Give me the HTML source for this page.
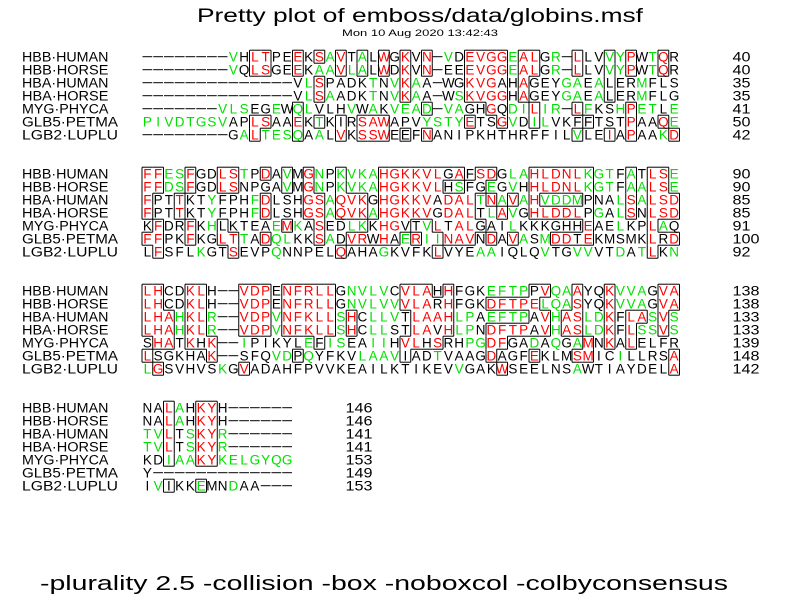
<!DOCTYPE html>
<html><head><meta charset="utf-8"><style>
html,body{margin:0;padding:0;background:#fff;}
svg{display:block;font-family:"Liberation Sans",sans-serif;}
</style></head><body>
<svg id="plot" width="800" height="600" viewBox="0 0 800 600" xmlns="http://www.w3.org/2000/svg">
<rect width="800" height="600" fill="#fff"/>
<text x="420" y="22" text-anchor="middle" font-size="19" textLength="446" lengthAdjust="spacingAndGlyphs">Pretty plot of emboss/data/globins.msf</text>
<text x="420" y="36" text-anchor="middle" font-size="9" textLength="156" lengthAdjust="spacingAndGlyphs">Mon 10 Aug 2020 13:42:43</text>
<text x="40" y="590" font-size="20" textLength="688" lengthAdjust="spacingAndGlyphs">-plurality 2.5 -collision -box -noboxcol -colbyconsensus</text>
<g id="aln"></g>
</svg>
<script>
const names = ["HBB·HUMAN","HBB·HORSE","HBA·HUMAN","HBA·HORSE","MYG·PHYCA","GLB5·PETMA","LGB2·LUPLU"];
const block1 = [
"--------VHLTPEEKSAVTALWGKVN-VDEVGGEALGR-LLVVYPWTQR",
"--------VQLSGEEKAAVLALWDKVN-EEEVGGEALGR-LLVVYPWTQR",
"--------------VLSPADKTNVKAA-WGKVGAHAGEYGAEALERMFLS",
"--------------VLSAADKTNVKAA-WSKVGGHAGEYGAEALERMFLG",
"-------VLSEGEWQLVLHVWAKVEAD-VAGHGQDILIR-LFKSHPETLE",
"PIVDTGSVAPLSAAEKTKIRSAWAPVYSTYETSGVDILVKFFTSTPAAQE",
"--------GALTESQAALVKSSWEEFNANIPKHTHRFFILVLEIAPAAKD"];
const block2 = [
"FFESFGDLSTPDAVMGNPKVKAHGKKVLGAFSDGLAHLDNLKGTFATLSE",
"FFDSFGDLSNPGAVMGNPKVKAHGKKVLHSFGEGVHHLDNLKGTFAALSE",
"FPTTKTYFPHFDLSHGSAQVKGHGKKVADALTNAVAHVDDMPNALSALSD",
"FPTTKTYFPHFDLSHGSAQVKAHGKKVGDALTLAVGHLDDLPGALSNLSD",
"KFDRFKHLKTEAEMKASEDLKKHGVTVLTALGAILKKKGHHEAELKPLAQ",
"FFPKFKGLTTADQLKKSADVRWHAERIINAVNDAVASMDDTEKMSMKLRD",
"LFSFLKGTSEVPQNNPELQAHAGKVFKLVYEAAIQLQVTGVVVTDATLKN"];
const block3 = [
"LHCDKLH--VDPENFRLLGNVLVCVLAHHFGKEFTPPVQAAYQKVVAGVA",
"LHCDKLH--VDPENFRLLGNVLVVVLARHFGKDFTPELQASYQKVVAGVA",
"LHAHKLR--VDPVNFKLLSHCLLVTLAAHLPAEFTPAVHASLDKFLASVS",
"LHAHKLR--VDPVNFKLLSHCLLSTLAVHLPNDFTPAVHASLDKFLSSVS",
"SHATKHK--IPIKYLEFISEAIIHVLHSRHPGDFGADAQGAMNKALELFR",
"LSGKHAK--SFQVDPQYFKVLAAVIADTVAAGDAGFEKLMSMICILLRSA",
"LGSVHVSKGVADAHFPVVKEAILKTIKEVVGAKWSEELNSAWTIAYDELA"];
const block4 = [
"NALAHKYH------","NALAHKYH------","TVLTSKYR------","TVLTSKYR------",
"KDIAAKYKELGYQG","Y-------------","IVIKKEMNDAA---"];
const colors1 = [
"kkkkkkkkgkrrkkrkrgrkGkrkrkrkgkrrrrgrrkgkrkkGgrkgrk",
"kkkkkkkkgkrrkkrkggrgGkrkrkrkkkrrrrgrrkgkrkkGgrkgrk",
"kkkkkkkkkkkkkkkgrkkkkgkgrgkkkkrrrKkrkkkggkgKkkgkkk",
"kkkkkkkkkkkkkkkgrgkkkgkgrgkkkgrrrrkrkkkggkgKkkgkkk",
"kkkkkkkgggkkgkGgkkkgkgkgggGkggkkrKggrggkrgkkgrggkg",
"ggggggggkkrrkkrkGkKkrrrkkkggggrkkrgkGgkkkKkkkrkkrg",
"kkkkkkkkkgrgggGkgkrkrrrkKkrkkkkkkkkkkkkkGkkrkrkkgr"];
const colors2 = [
"rrggrkkrrgkrkGkrgkGgggrrrrrrKrkrrkggrrrrrGggkGkrrg",
"rrggrkkrrkkkkGkrgkGgggrrrrrrkgKKgkgkrrrrrGggkGgrrg",
"rkkrkkgkkkgrkkkrrgrrrkrrrrrKrrrgrgrgrggggKkkgrgrrr",
"rkkrkkgkkkgrkkkrrgrrrgrrrrrKrrrkgrgkrrrrrKgkgrkrrr",
"krkkrkgKkkkkgrgkrkkggKrrKkgrKrrKkkgkkkkkkrkkgkkrgk",
"rrkkrkkrrgkrggkkrgkrrKrKgrggrrrkrkrgkgrrKrkkkkkrKr",
"krkkkgkkrkkkgkkkkkrkkkgkkkkrkkkggkkkkgkkggkkgkgrkg"];
const colors3 = [
"rrkkrrkkkrrrkrrrrrkggggkrrrkrkkkggggKrggrkkrgggkrr",
"rrkkrrkkkrrrkrrrrrkgggggrrrKrkkkrrrrrgggrkkrgggkrr",
"rrrgrrgkkrrrgrrrrrgrkgggkrrrrggkggggKrgrrggrkrrgrg",
"rrrgrrgkkrrrgrrrrrgrkggkkrrKrggkrrrrKrgrrggrkrggrg",
"krrkrKrkkgkkkkkgKggkkggkrrKrkkggrrkkgkgkgrkrkrkkkk",
"rkkkkkrkkkkkggKgkkkkggggKkkgkkkkrkkkrkkkrrkkgkkkkr",
"grkkkkkgkrkkkkkkkkkkkkkkkkkkkgkkkrkkkkkkgkkkkkkkkr"];
const colors4 = [
"kkrgkrrkkkkkkk","kkrgkrrkkkkkkk","ggrkgrrgkkkkkk","ggrkgrrgkkkkkk",
"kkGggrrggggggg","kkkkkkkkkkkkkk","kgKkkGkkgkkkkk"];
const ends1 = [40,40,35,35,41,50,42];
const ends2 = [90,90,85,85,91,100,92];
const ends3 = [138,138,133,133,139,148,142];
const ends4 = [146,146,141,141,153,149,153];

const blocks = [block1,block2,block3,block4];
const colorSets = [colors1,colors2,colors3,colors4];
const endSets = [ends1,ends2,ends3,ends4];
const NS = "http://www.w3.org/2000/svg";
const g = document.getElementById("aln");
const X0 = 142, CW = 10.75, Y0 = 61.7, RH = 13, BH = 117;
const colMap = {r:"#ff0000", g:"#00e000", k:"#000000"};
function cx(c){ return X0 + c*CW; }
function rowY(b,r){ return Y0 + b*BH + r*RH; }
function mk(tag, attrs){ const e = document.createElementNS(NS, tag); for (const k in attrs) e.setAttribute(k, attrs[k]); return e; }

blocks.forEach((blk, b) => {
  const cols = colorSets[b];
  const isBox = (r,c) => r>=0 && r<blk.length && c>=0 && c<blk[r].length && blk[r][c] !== '-' &&
    (cols[r][c] === 'r' || (cols[r][c] >= 'A' && cols[r][c] <= 'Z'));
  blk.forEach((seq, r) => {
    const y = rowY(b, r);
    const nm = mk("text", {x:22, y:y, "font-size":13.5, textLength:names[r].length*9.6, lengthAdjust:"spacingAndGlyphs"});
    
    
    nm.textContent = names[r];
    g.appendChild(nm);
    for (let c = 0; c < seq.length; c++) {
      const ch = seq[c];
      const code = cols[r][c].toLowerCase();
      if (ch === '-') {
        const ln = mk("line", {x1:cx(c)+0.5, x2:cx(c)+CW-0.5, y1:y-5, y2:y-5, stroke:"#000", "stroke-width":1});
        
        
        g.appendChild(ln);
      } else {
        const t = mk("text", {x:cx(c)+CW/2, y:y, "font-size":13.5, "text-anchor":"middle", fill:colMap[code]});
        
        
        t.textContent = ch;
        g.appendChild(t);
      }
      if (isBox(r,c)) {
        const x1 = cx(c), x2 = cx(c)+CW, yt = y-11.5, yb = y+1.5;
        const edges = [];
        if (!isBox(r-1,c)) edges.push([x1,yt,x2,yt]);
        if (!isBox(r+1,c)) edges.push([x1,yb,x2,yb]);
        if (!isBox(r,c-1)) edges.push([x1,yt,x1,yb]);
        if (!isBox(r,c+1)) edges.push([x2,yt,x2,yb]);
        edges.forEach(e => {
          const ln = mk("line", {x1:e[0], y1:e[1], x2:e[2], y2:e[3], stroke:"#000", "stroke-width":1});
          
          
          g.appendChild(ln);
        });
      }
    }
    const num = String(endSets[b][r]);
    const nx = cx(seq.length) + 53;
    const nt = mk("text", {x:nx, y:y, "font-size":13.5, textLength:num.length*9, lengthAdjust:"spacingAndGlyphs"});
    
    
    nt.textContent = num;
    g.appendChild(nt);
  });
});
</script>
</body></html>
